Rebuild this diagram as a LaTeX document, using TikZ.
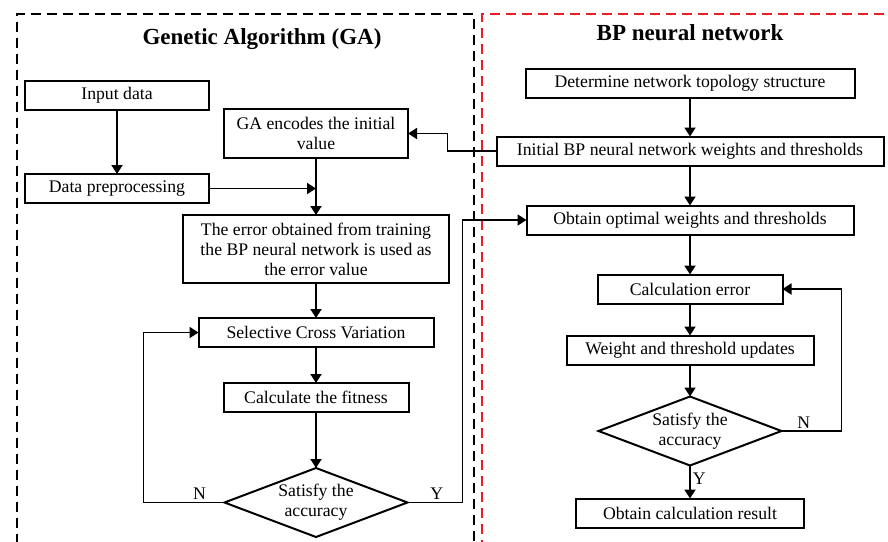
\documentclass[tikz,border=0pt]{standalone}
\usepackage{fontspec}
\setmainfont{Liberation Serif}
\usetikzlibrary{positioning, arrows.meta, shapes.geometric}
\definecolor{bpred}{RGB}{237,28,36}
\newcommand{\boxfont}{\fontsize{17.7}{20}\selectfont}
\newcommand{\headfont}{\fontsize{23}{27}\selectfont\bfseries}

\begin{document}
\begin{tikzpicture}[x=1pt, y=-1pt, >={Triangle[length=9pt,width=11pt]},
    stepbox/.style={draw, line width=2pt, outer sep=0pt, minimum height=29pt, inner sep=2pt, align=center, font=\boxfont},
    check/.style={draw, diamond, line width=2pt, outer sep=0pt, minimum width=183pt, minimum height=69pt, inner sep=0pt, aspect=2.6, align=center, font=\boxfont},
    flow/.style={->, line width=1.8pt},
    frame/.style={line width=2pt, dash pattern=on 10pt off 6pt},
    tag/.style={font=\boxfont, inner sep=2pt}]
    \useasboundingbox (0,0) rectangle (888,541);
    % dashed frames
    \draw[frame] (17,560) -- (17,14) -- (474,14) -- (474,560);
    \draw[frame, bpred] (900,14) -- (482,14) -- (482,560);
    \node[font=\headfont] (gatitle) at (262,39) {Genetic Algorithm (GA)};
    \node[font=\headfont] (bptitle) at (690,33) {BP neural network};
    % GA column
    \node[stepbox, minimum width=184pt] (input) at (117,95.5) {Input data};
    \node[stepbox, minimum width=184pt, below=64pt of input] (prep) {Data preprocessing};
    \node[stepbox, minimum width=184pt, minimum height=49pt] (encode) at (316,133.5) {GA encodes the initial\\value};
    \node[stepbox, minimum width=266pt, minimum height=68pt] (gaerror) at (316,249) {The error obtained from training\\the BP neural network is used as\\the error value};
    \node[stepbox, minimum width=235pt, below=35pt of gaerror] (select) {Selective Cross Variation};
    \node[stepbox, minimum width=185pt, below=36pt of select] (fitness) {Calculate the fitness};
    \node[check, below=56pt of fitness] (gacheck) {Satisfy the\\accuracy};
    % BP column
    \node[stepbox, minimum width=329pt] (topo) at (690,83) {Determine network topology structure};
    \node[stepbox, minimum width=387pt, below=39pt of topo] (initw) {Initial BP neural network weights and thresholds};
    \node[stepbox, minimum width=327pt, below=40pt of initw] (optim) {Obtain optimal weights and thresholds};
    \node[stepbox, minimum width=185pt, below=40pt of optim] (calcerr) {Calculation error};
    \node[stepbox, minimum width=247pt, below=32pt of calcerr] (update) {Weight and threshold updates};
    \node[check, below=32pt of update] (bpcheck) {Satisfy the\\accuracy};
    \node[stepbox, minimum width=228pt, below=33pt of bpcheck] (result) {Obtain calculation result};
    % connectors
    \draw[flow] (input) -- (prep);
    \draw[flow] (encode) -- (gaerror);
    \draw[flow] (prep.east) -- (prep.east -| encode.south);
    \draw[flow] (initw.west) -- ++(-49,0) |- (encode.east);
    \draw[flow] (gaerror) -- (select);
    \draw[flow] (select) -- (fitness);
    \draw[flow] (fitness) -- (gacheck);
    \draw[flow] (gacheck.west) -- node[tag, above, pos=0.31] (gano) {N} ++(-81,0) |- (select.west);
    \draw[flow] (gacheck.east) -- node[tag, above, pos=0.53] (gayes) {Y} ++(55,0) |- (optim.west);
    \draw[flow] (topo) -- (initw);
    \draw[flow] (initw) -- (optim);
    \draw[flow] (optim) -- (calcerr);
    \draw[flow] (calcerr) -- (update);
    \draw[flow] (update) -- (bpcheck);
    \draw[flow] (bpcheck) -- node[tag, right, pos=0.4] (bpyes) {Y} (result);
    \draw[flow] (bpcheck.east) -- node[tag, above, pos=0.37] (bpno) {N} ++(60,0) |- (calcerr.east);
\end{tikzpicture}
\end{document}
